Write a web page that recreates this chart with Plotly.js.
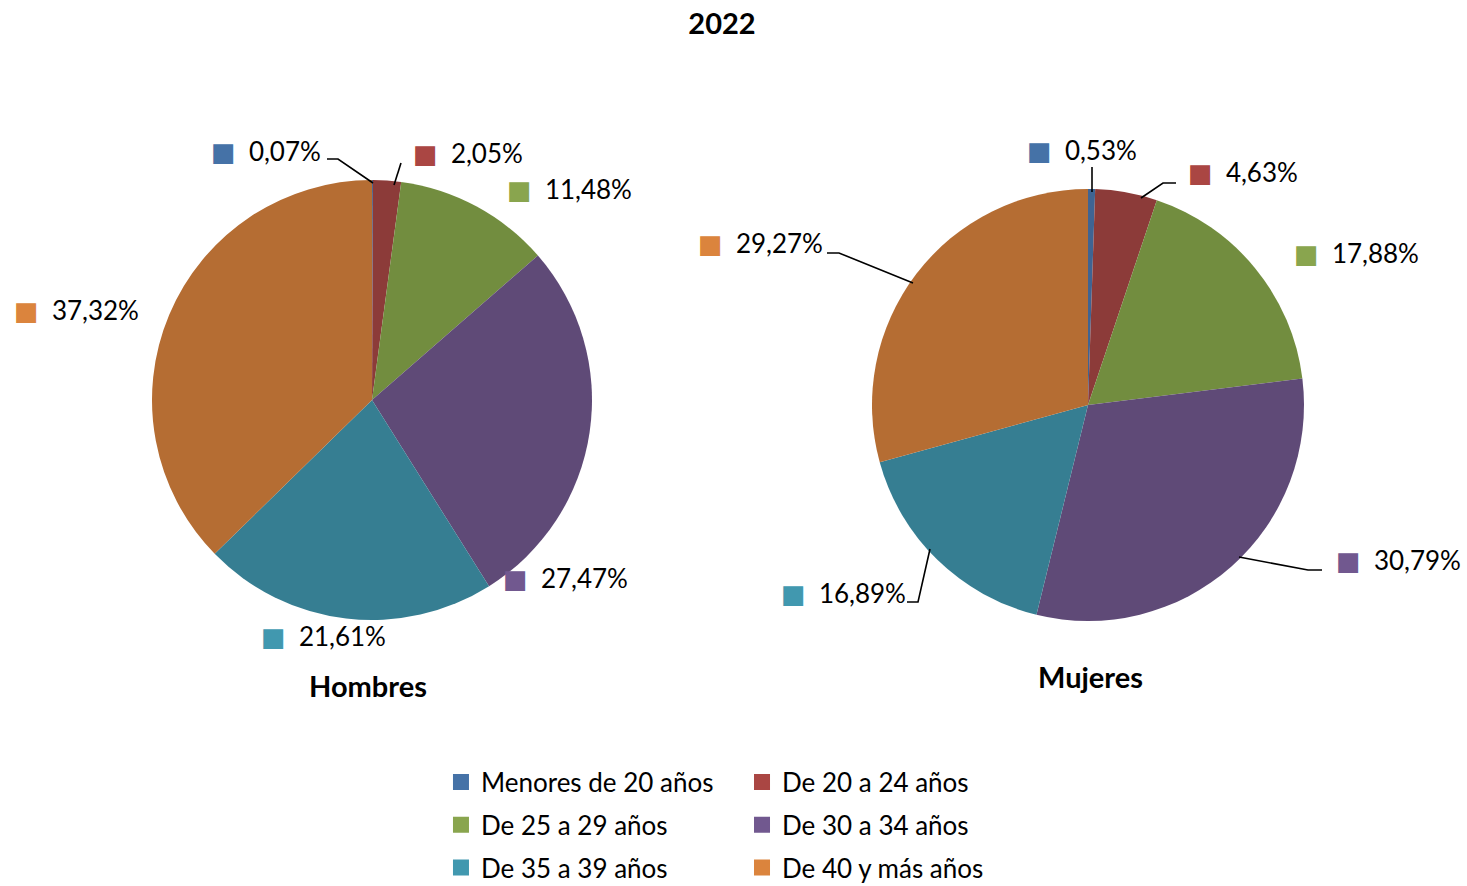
<!DOCTYPE html>
<html>
<head>
<meta charset="utf-8">
<script src="https://cdn.plot.ly/plotly-3.0.1.min.js"></script>
<style>html,body{margin:0;padding:0;background:#fff;}</style>
</head>
<body>
<div id="chart" style="width:1467px;height:886px;"></div>
<script>
// ---- data ----
const categories = ["Menores de 20 años", "De 20 a 24 años", "De 25 a 29 años", "De 30 a 34 años", "De 35 a 39 años", "De 40 y más años"];
const hombres = [0.07, 2.05, 11.48, 27.47, 21.61, 37.32];
const mujeres = [0.53, 4.63, 17.88, 30.79, 16.89, 29.27];
const chartTitle = "2022";
const pieTitles = ["Hombres", "Mujeres"];

// ---- styles / layout ----
const W = 1467, H = 886;
const sliceColors = ["#3F6493", "#8C3B39", "#728D3F", "#5F4A77", "#367E92", "#B56D33"];
const keyColors = ["#4572A7", "#AA4643", "#89A54E", "#71588F", "#4198AF", "#DB843D"];
const FONT = "Lato, 'Open Sans', 'DejaVu Sans', sans-serif";

// label anchor positions in pixels (left edge of label box, vertical centre), per slice
const labelPosHombres = [[209, 151], [411, 153], [505, 189], [501, 578], [259, 636], [12, 310]];
const labelPosMujeres = [[1025, 150], [1186, 172], [1292, 253], [1334, 560], [779, 593], [696, 243]];
// leader lines in pixels
const leaders = [
  [[327, 159], [338, 159], [373, 183]],
  [[401, 163], [394, 185]],
  [[1092, 167], [1092, 192]],
  [[1176, 183], [1163, 183], [1141, 198]],
  [[827, 253], [839, 253], [913, 283]],
  [[1322, 570], [1308, 570], [1239, 557]],
  [[907, 602], [918, 602], [930, 549]]
];

const px = x => x / W;
const py = y => 1 - y / H;
function fmt(v) { return v.toFixed(2).replace('.', ',') + '%'; }

function pieTrace(vals, dom) {
  return {
    type: 'pie',
    labels: categories,
    values: vals,
    textinfo: 'none',
    sort: false,
    direction: 'clockwise',
    rotation: 0,
    marker: {colors: sliceColors, line: {width: 0}},
    domain: dom,
    showlegend: false,
    automargin: false,
    hovertemplate: '%{label}: %{value:.2f}%<extra></extra>'
  };
}

const traces = [
  pieTrace(hombres, {x: [0.10361, 0.40354], y: [0.30023, 0.79684]}),
  pieTrace(mujeres, {x: [0.59441, 0.88889], y: [0.29910, 0.78668]})
];

// legend entries (two columns)
categories.forEach((c, i) => {
  traces.push({
    type: 'scatter', mode: 'markers', x: [null], y: [null],
    name: c, legendgroup: 'g' + i,
    marker: {symbol: 'square', size: 16, color: keyColors[i]},
    legend: (i % 2 === 0) ? 'legend' : 'legend2',
    hoverinfo: 'skip'
  });
});

const legendCommon = {
  orientation: 'v', yanchor: 'top', xanchor: 'left',
  font: {family: FONT, size: 26, color: '#000'},
  bgcolor: 'rgba(0,0,0,0)', borderwidth: 0,
  tracegroupgap: 6, itemwidth: 30
};

const annotations = [];
function addLabels(vals, pos) {
  vals.forEach((v, i) => {
    annotations.push({
      text: '<span style="color:' + keyColors[i] + '">■</span>\u00A0\u00A0' + fmt(v),
      xref: 'paper', yref: 'paper', x: px(pos[i][0]), y: py(pos[i][1]),
      xanchor: 'left', yanchor: 'middle', showarrow: false,
      font: {family: FONT, size: 26, color: '#000'}
    });
  });
}
addLabels(hombres, labelPosHombres);
addLabels(mujeres, labelPosMujeres);
annotations.push(
  {text: '<b>' + pieTitles[0] + '</b>', xref: 'paper', yref: 'paper', x: px(368), y: py(685), xanchor: 'center', yanchor: 'middle', showarrow: false, font: {family: FONT, size: 29, color: '#000'}},
  {text: '<b>' + pieTitles[1] + '</b>', xref: 'paper', yref: 'paper', x: px(1090), y: py(676), xanchor: 'center', yanchor: 'middle', showarrow: false, font: {family: FONT, size: 29, color: '#000'}}
);

const shapes = leaders.map(pts => ({
  type: 'path', xref: 'paper', yref: 'paper',
  path: pts.map((p, k) => (k ? 'L' : 'M') + px(p[0]) + ',' + py(p[1])).join(' '),
  line: {color: '#000', width: 1.6}
}));

const layout = {
  width: W, height: H,
  margin: {l: 0, r: 0, t: 0, b: 0, autoexpand: false},
  paper_bgcolor: '#fff', plot_bgcolor: '#fff',
  font: {family: FONT, color: '#000'},
  title: {text: '<b>' + chartTitle + '</b>', x: px(722), xanchor: 'center', y: py(24), yanchor: 'middle', font: {family: FONT, size: 29, color: '#000'}},
  xaxis: {visible: false}, yaxis: {visible: false},
  legend: Object.assign({x: 0.3006, y: 0.1439}, legendCommon),
  legend2: Object.assign({x: 0.5058, y: 0.1439}, legendCommon),
  annotations: annotations,
  shapes: shapes
};

Plotly.newPlot('chart', traces, layout, {displayModeBar: false, responsive: false});
</script>
</body>
</html>
